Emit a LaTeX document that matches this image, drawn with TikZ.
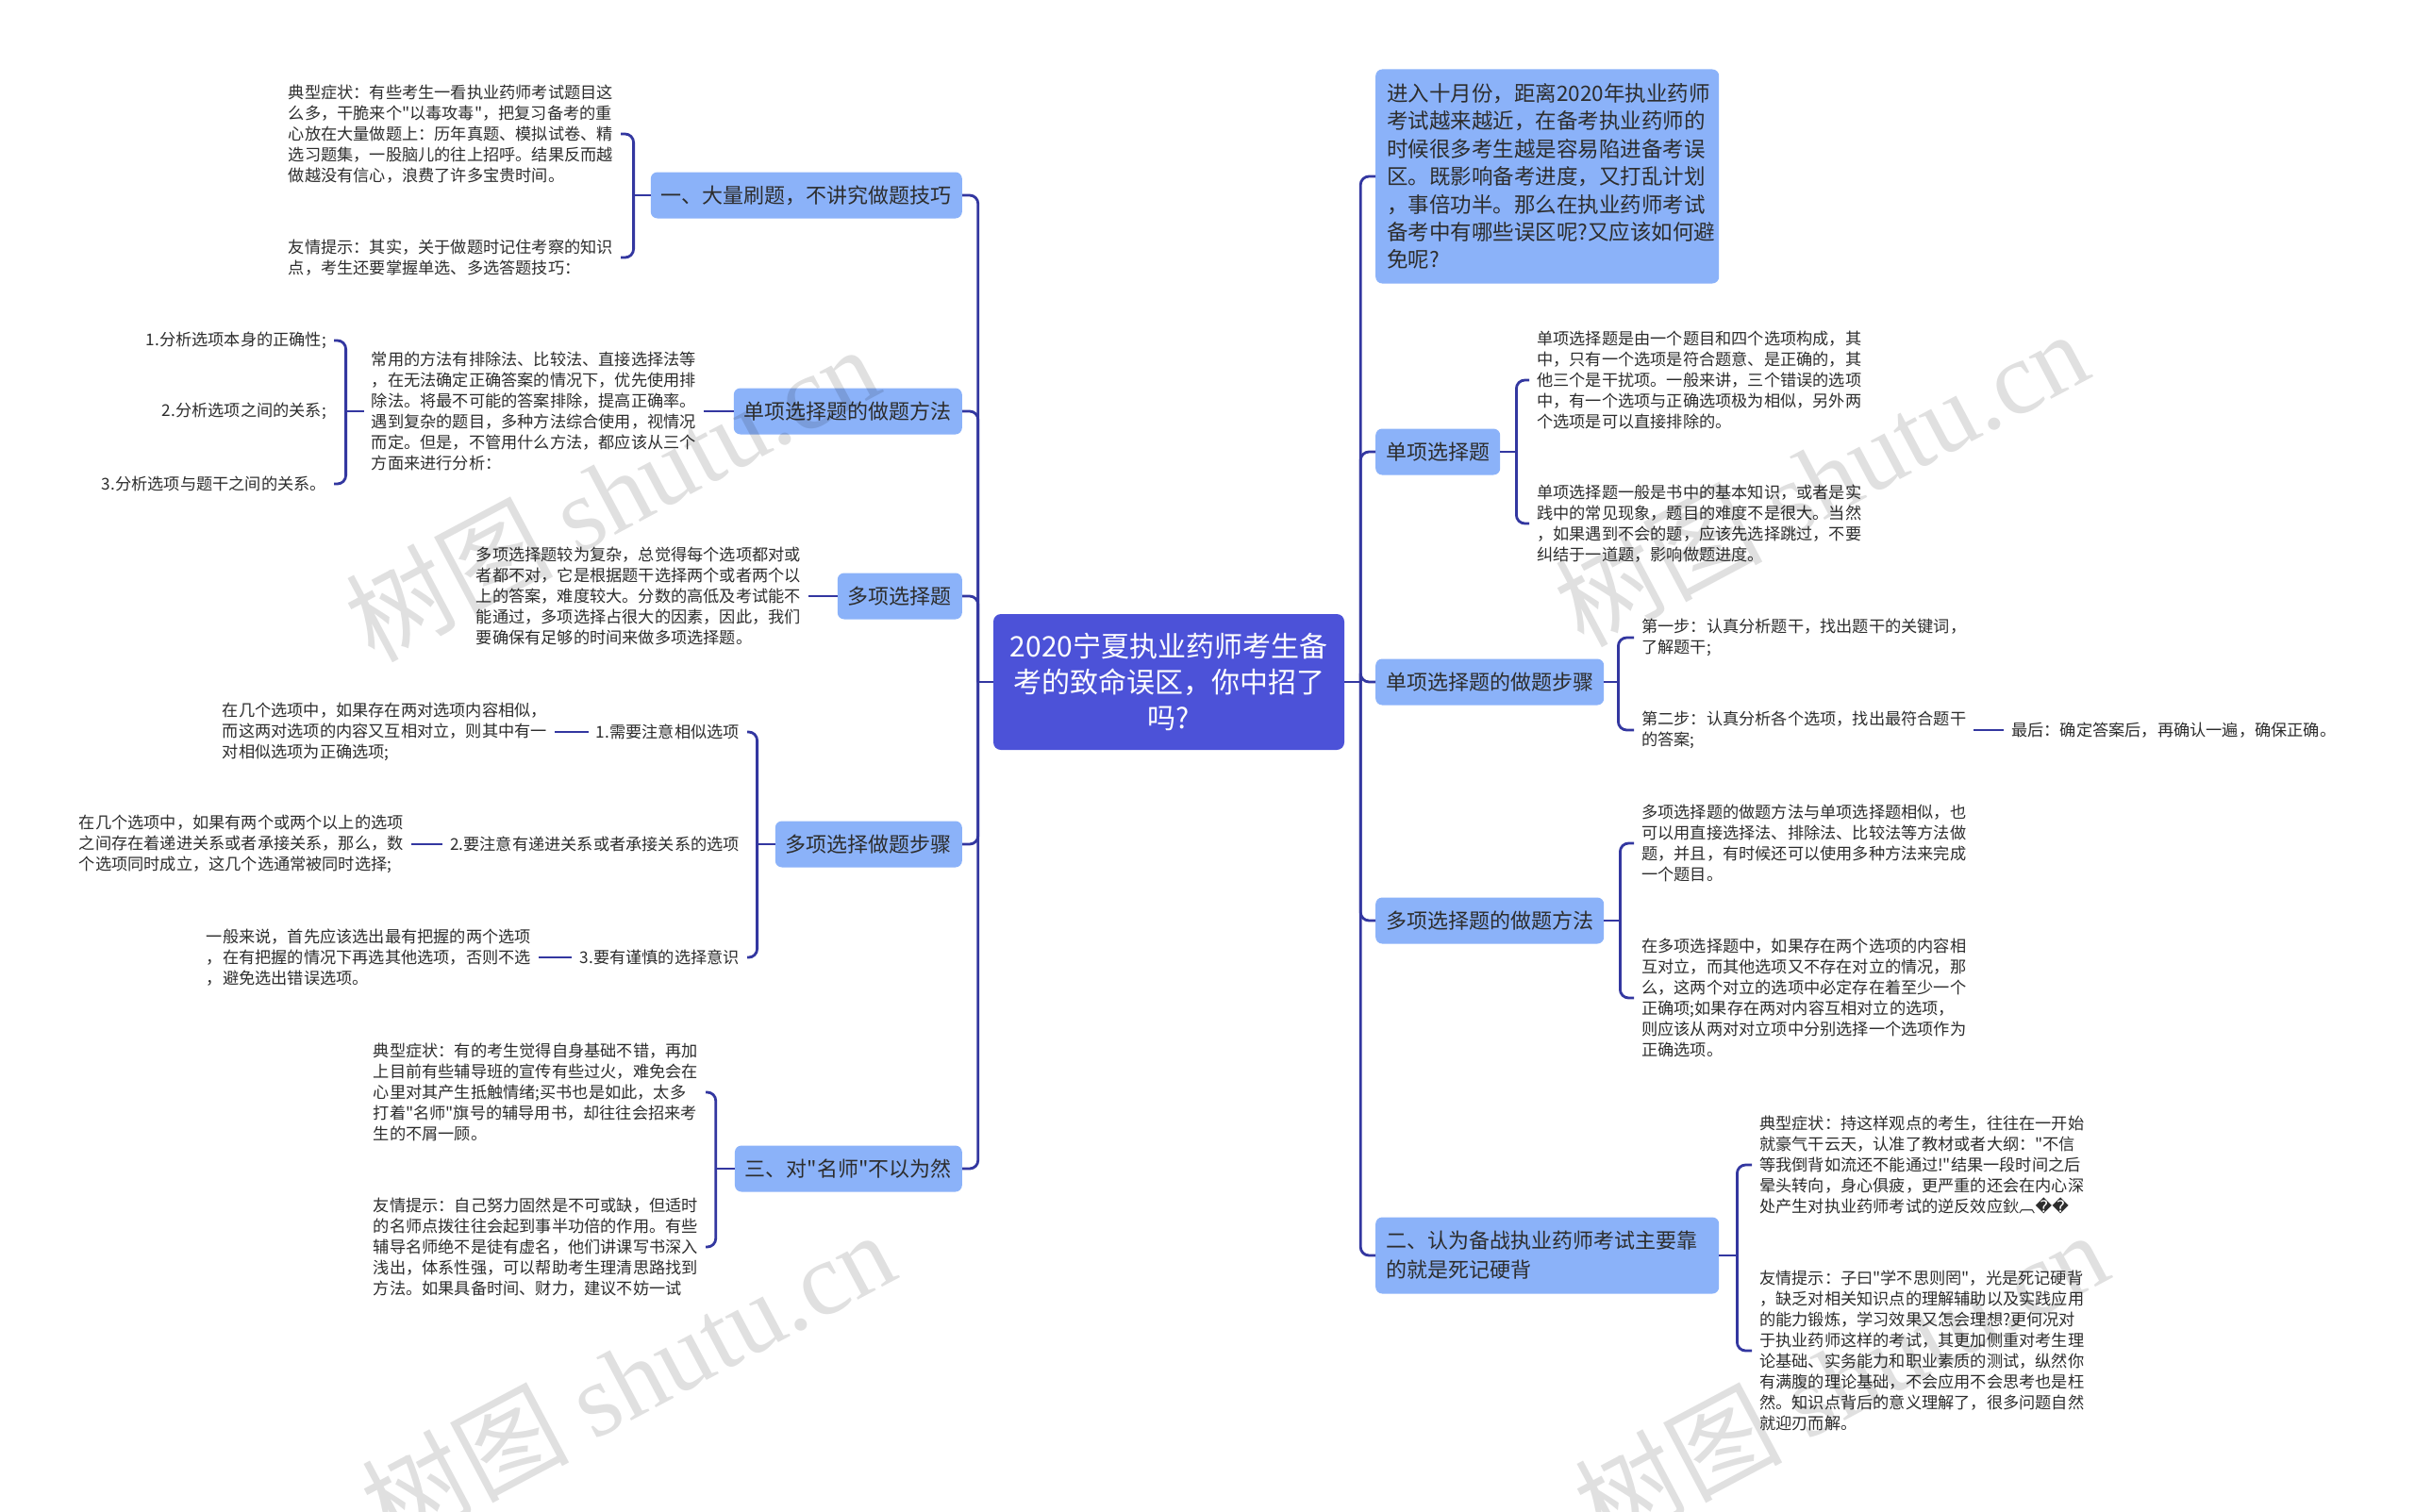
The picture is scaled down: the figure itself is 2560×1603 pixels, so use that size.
\documentclass[tikz,border=0pt]{standalone}
\usepackage{fontspec}
\setmainfont{Noto Sans CJK SC}[Ligatures=TeXOff]
\newfontfamily\dejavu{DejaVu Sans}
\newfontfamily\wmserif{Liberation Serif}
\usetikzlibrary{calc}
\definecolor{cmain}{RGB}{76,82,216}
\definecolor{cbranch}{RGB}{139,178,249}
\definecolor{cline}{RGB}{51,55,160}
\definecolor{ctext}{RGB}{45,45,45}
\tikzset{
 conn/.style={draw=cline, line width=2.8pt, rounded corners=9pt},
 central/.style={fill=cmain, rounded corners=8pt, text=white, font=\fontsize{30pt}{38pt}\selectfont, align=center, minimum width=372pt, minimum height=144pt, inner sep=0pt},
 branch/.style={fill=cbranch, rounded corners=7pt, text=ctext, font=\fontsize{22pt}{31pt}\selectfont, inner xsep=11pt, inner ysep=0pt, minimum height=49pt, align=left},
 leaf/.style={text=ctext, font=\fontsize{17.2pt}{22pt}\selectfont, align=left, inner xsep=8pt, inner ysep=3pt},
 wm/.style={text=black, text opacity=0.12, rotate=28, font=\fontsize{110pt}{110pt}\selectfont}
}
\begin{document}
\begin{tikzpicture}[x=1pt,y=-1pt]
\fill[white] (0,0) rectangle (2560,1603);
\useasboundingbox (0,0) rectangle (2560,1603);

% central
\node[central] (C) at (1239,723) {2020宁夏执业药师考生备\\考的致命误区，你中招了\\吗?};

% left branches
\node[branch, anchor=east] (B1) at (1020,207) {一、大量刷题，不讲究做题技巧};
\node[branch, anchor=east] (B2) at (1020,436) {单项选择题的做题方法};
\node[branch, anchor=east] (B3) at (1020,632) {多项选择题};
\node[branch, anchor=east] (B4) at (1020,895) {多项选择做题步骤};
\node[branch, anchor=east] (B5) at (1020,1239) {三、对"名师"不以为然};

% right branches
\node[branch, anchor=west, text width=340pt, inner xsep=12pt, font=\fontsize{22.5pt}{29.4pt}\selectfont, minimum height=227pt] (R1) at (1458,187) {进入十月份，距离2020年执业药师\\考试越来越近，在备考执业药师的\\时候很多考生越是容易陷进备考误\\区。既影响备考进度，又打乱计划\\，事倍功半。那么在执业药师考试\\备考中有哪些误区呢?又应该如何避\\免呢?};
\node[branch, anchor=west] (R2) at (1458,479) {单项选择题};
\node[branch, anchor=west] (R3) at (1458,723) {单项选择题的做题步骤};
\node[branch, anchor=west] (R4) at (1458,976) {多项选择题的做题方法};
\node[branch, anchor=west, text width=342pt, minimum height=81pt] (R5) at (1458,1331) {二、认为备战执业药师考试主要靠\\的就是死记硬背};

% trunk connectors
\coordinate (cl) at ([xshift=-16pt]C.west);
\coordinate (cr) at ([xshift=17pt]C.east);
\draw[conn] (C.west) -- (cl);
\draw[conn] (C.east) -- (cr);
\foreach \n in {B1,B2,B3,B4,B5} \draw[conn] (cl) |- (\n.east);
\foreach \n in {R1,R2,R3,R4,R5} \draw[conn] (cr) |- (\n.west);

% ---- B1 leaves
\node[leaf, anchor=east] (L1a) at (658,142) {典型症状：有些考生一看执业药师考试题目这\\么多，干脆来个"以毒攻毒"，把复习备考的重\\心放在大量做题上：历年真题、模拟试卷、精\\选习题集，一股脑儿的往上招呼。结果反而越\\做越没有信心，浪费了许多宝贵时间。};
\node[leaf, anchor=east] (L1b) at (658,273) {友情提示：其实，关于做题时记住考察的知识\\点，考生还要掌握单选、多选答题技巧：};
\coordinate (j1) at ([xshift=-18pt]B1.west);
\draw[conn] (B1.west) -- (j1);
\draw[conn] (j1) |- (L1a.east);
\draw[conn] (j1) |- (L1b.east);

% ---- B2 leaves
\node[leaf, anchor=east] (L2) at (746,436) {常用的方法有排除法、比较法、直接选择法等\\，在无法确定正确答案的情况下，优先使用排\\除法。将最不可能的答案排除，提高正确率。\\遇到复杂的题目，多种方法综合使用，视情况\\而定。但是，不管用什么方法，都应该从三个\\方面来进行分析：};
\draw[conn] (B2.west) -- (L2.east);
\node[leaf, anchor=east] (S1) at (354,361) {1.分析选项本身的正确性;};
\node[leaf, anchor=east] (S2) at (354,436) {2.分析选项之间的关系;};
\node[leaf, anchor=east] (S3) at (354,513) {3.分析选项与题干之间的关系。};
\coordinate (j2) at ([xshift=-19pt]L2.west);
\draw[conn] (L2.west) -- (j2);
\draw[conn] (j2) |- (S1.east);
\draw[conn] (j2) |- (S3.east);

% ---- B3 leaf
\node[leaf, anchor=east] (L3) at (857,632) {多项选择题较为复杂，总觉得每个选项都对或\\者都不对，它是根据题干选择两个或者两个以\\上的答案，难度较大。分数的高低及考试能不\\能通过，多项选择占很大的因素，因此，我们\\要确保有足够的时间来做多项选择题。};
\draw[conn] (B3.west) -- (L3.east);

% ---- B4 leaves
\node[leaf, anchor=east] (S4a) at (792,776) {1.需要注意相似选项};
\node[leaf, anchor=east] (S4b) at (792,895) {2.要注意有递进关系或者承接关系的选项};
\node[leaf, anchor=east] (S4c) at (792,1015) {3.要有谨慎的选择意识};
\coordinate (j4) at ([xshift=-19pt]B4.west);
\draw[conn] (B4.west) -- (j4);
\draw[conn] (j4) |- (S4a.east);
\draw[conn] (j4) |- (S4c.east);
\node[leaf, anchor=east] (S4aL) at (588,776) {在几个选项中，如果存在两对选项内容相似，\\而这两对选项的内容又互相对立，则其中有一\\对相似选项为正确选项;};
\node[leaf, anchor=east] (S4bL) at (436,895) {在几个选项中，如果有两个或两个以上的选项\\之间存在着递进关系或者承接关系，那么，数\\个选项同时成立，这几个选通常被同时选择;};
\node[leaf, anchor=east] (S4cL) at (571,1015) {一般来说，首先应该选出最有把握的两个选项\\，在有把握的情况下再选其他选项，否则不选\\，避免选出错误选项。};
\draw[conn] (S4a.west) -- (S4aL.east);
\draw[conn] (S4b.west) -- (S4bL.east);
\draw[conn] (S4c.west) -- (S4cL.east);

% ---- B5 leaves
\node[leaf, anchor=east] (L5a) at (748,1158) {典型症状：有的考生觉得自身基础不错，再加\\上目前有些辅导班的宣传有些过火，难免会在\\心里对其产生抵触情绪;买书也是如此，太多\\打着"名师"旗号的辅导用书，却往往会招来考\\生的不屑一顾。};
\node[leaf, anchor=east] (L5b) at (748,1322) {友情提示：自己努力固然是不可或缺，但适时\\的名师点拨往往会起到事半功倍的作用。有些\\辅导名师绝不是徒有虚名，他们讲课写书深入\\浅出，体系性强，可以帮助考生理清思路找到\\方法。如果具备时间、财力，建议不妨一试};
\coordinate (j5) at ([xshift=-20pt]B5.west);
\draw[conn] (B5.west) -- (j5);
\draw[conn] (j5) |- (L5a.east);
\draw[conn] (j5) |- (L5b.east);

% ---- R2 leaves
\node[leaf, anchor=west] (L6a) at (1621,403) {单项选择题是由一个题目和四个选项构成，其\\中，只有一个选项是符合题意、是正确的，其\\他三个是干扰项。一般来讲，三个错误的选项\\中，有一个选项与正确选项极为相似，另外两\\个选项是可以直接排除的。};
\node[leaf, anchor=west] (L6b) at (1621,555) {单项选择题一般是书中的基本知识，或者是实\\践中的常见现象，题目的难度不是很大。当然\\，如果遇到不会的题，应该先选择跳过，不要\\纠结于一道题，影响做题进度。};
\coordinate (j6) at ([xshift=17pt]R2.east);
\draw[conn] (R2.east) -- (j6);
\draw[conn] (j6) |- (L6a.west);
\draw[conn] (j6) |- (L6b.west);

% ---- R3 leaves
\node[leaf, anchor=west] (L7a) at (1732,676) {第一步：认真分析题干，找出题干的关键词，\\了解题干;};
\node[leaf, anchor=west] (L7b) at (1732,774) {第二步：认真分析各个选项，找出最符合题干\\的答案;};
\node[leaf, anchor=west] (L7c) at (2124,774) {最后：确定答案后，再确认一遍，确保正确。};
\coordinate (j7) at ([xshift=15pt]R3.east);
\draw[conn] (R3.east) -- (j7);
\draw[conn] (j7) |- (L7a.west);
\draw[conn] (j7) |- (L7b.west);
\draw[conn] (L7b.east) -- (L7c.west);

% ---- R4 leaves
\node[leaf, anchor=west] (L8a) at (1732,894) {多项选择题的做题方法与单项选择题相似，也\\可以用直接选择法、排除法、比较法等方法做\\题，并且，有时候还可以使用多种方法来完成\\一个题目。};
\node[leaf, anchor=west] (L8b) at (1732,1058) {在多项选择题中，如果存在两个选项的内容相\\互对立，而其他选项又不存在对立的情况，那\\么，这两个对立的选项中必定存在着至少一个\\正确项;如果存在两对内容互相对立的选项，\\则应该从两对对立项中分别选择一个选项作为\\正确选项。};
\coordinate (j8) at ([xshift=17pt]R4.east);
\draw[conn] (R4.east) -- (j8);
\draw[conn] (j8) |- (L8a.west);
\draw[conn] (j8) |- (L8b.west);

% ---- R5 leaves
\node[leaf, anchor=west] (L9a) at (1857,1235) {典型症状：持这样观点的考生，往往在一开始\\就豪气干云天，认准了教材或者大纲："不信\\等我倒背如流还不能通过!"结果一段时间之后\\晕头转向，身心俱疲，更严重的还会在内心深\\处产生对执业药师考试的逆反效应鈥︹{\dejavu ��}};
\node[leaf, anchor=west] (L9b) at (1857,1432) {友情提示：子曰"学不思则罔"，光是死记硬背\\，缺乏对相关知识点的理解辅助以及实践应用\\的能力锻炼，学习效果又怎会理想?更何况对\\于执业药师这样的考试，其更加侧重对考生理\\论基础、实务能力和职业素质的测试，纵然你\\有满腹的理论基础，不会应用不会思考也是枉\\然。知识点背后的意义理解了，很多问题自然\\就迎刃而解。};
\coordinate (j9) at ([xshift=19pt]R5.east);
\draw[conn] (R5.east) -- (j9);
\draw[conn] (j9) |- (L9a.west);
\draw[conn] (j9) |- (L9b.west);

% watermarks
\node[wm] (w1) at (648,522) {树图 {\wmserif shutu.cn}};
\node[wm] (w2) at (1930,506) {树图 {\wmserif shutu.cn}};
\node[wm] (w3) at (665,1461) {树图 {\wmserif shutu.cn}};
\node[wm] (w4) at (1951,1461) {树图 {\wmserif shutu.cn}};
\end{tikzpicture}
\end{document}
